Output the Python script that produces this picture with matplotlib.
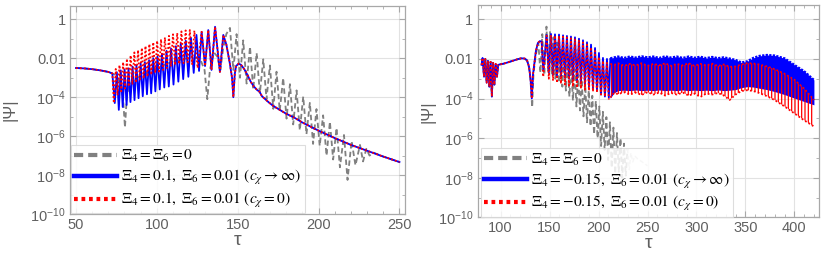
"""Two-panel |Psi|(tau) ringdown comparison, log scale."""
import numpy as np
import matplotlib
matplotlib.use("Agg")
import matplotlib.pyplot as plt
from matplotlib.lines import Line2D
from matplotlib.ticker import FixedLocator, NullFormatter

# all |Psi| values below are log10(|Psi|)

# ---------------- left panel ----------------
left_pre_t = [50, 55, 60, 65, 70, 72.5]
left_pre_lg = [-2.50, -2.52, -2.56, -2.62, -2.70, -2.78]

left_gray_t = [74, 77, 79, 80.3, 81.5, 83, 86, 90, 95, 100, 105, 110, 115, 120, 124, 127,
               129.5, 131.2, 132.8, 135.3, 137.3, 139.3, 141, 143, 145.2,
               147.3, 149.3, 151.4, 153.4, 155.5, 157.6, 159.6, 161.7, 163.7, 165.8,
               167.8, 169.9, 172.0, 174.0, 176.0, 178.1, 180.2, 182.3, 184.3, 186.4,
               188.4, 190.5, 192.5, 194.6, 196.6, 198.7, 200.7, 202.8, 204.9, 207.0,
               209.0, 211.1, 213.2, 215.7, 217.9, 220.4, 222.8, 225.6, 227.5, 229.5,
               231.5, 234, 240, 250]
left_gray_lg = [-2.85, -3.20, -3.90, -5.55, -3.90, -3.40, -3.10, -2.90, -2.70, -2.50, -2.32,
                -2.17, -2.06, -1.99, -1.98, -2.08,
                -2.60, -4.10, -2.60, -1.70, -1.90, -2.60, -1.50, -0.75, -0.44,
                -2.6, -0.76, -3.0, -1.08, -3.3, -1.41, -3.6, -1.73, -3.8, -2.05,
                -4.1, -2.37, -4.6, -2.69, -4.7, -3.01, -5.1, -3.33, -5.4, -3.65,
                -5.7, -3.97, -5.9, -4.29, -6.4, -4.61, -6.5, -4.93, -7.0, -5.26,
                -7.2, -5.58, -7.6, -5.94, -8.25, -6.25, -7.5, -6.45, -7.3, -6.65,
                -7.0, -6.85, -7.05, -7.33]

left_blue_t = [74.0, 75.3, 76.5, 77.7, 78.9, 80.1, 81.3, 82.5, 83.7, 85.0, 86.2, 87.4,
               88.7, 90.0, 91.3, 92.6, 93.9, 95.2, 96.5, 97.8, 99.1, 100.4, 101.8,
               103.2, 104.6, 106.0, 107.4, 108.8, 110.3, 111.8, 113.3, 114.8, 116.3,
               117.9, 119.5, 121.1, 122.8, 124.5, 126.1]
left_blue_lg = [-4.3, -2.72, -4.65, -2.62, -4.5, -2.58, -4.4, -2.52, -4.25, -2.43, -4.15,
                -2.36, -4.05, -2.28, -3.95, -2.20, -3.85, -2.10, -3.8, -2.00, -3.7, -1.90,
                -3.6, -1.78, -3.5, -1.62, -3.45, -1.50, -3.35, -1.38, -3.2, -1.25, -3.07,
                -1.10, -2.95, -0.95, -2.75, -0.80, -2.65]

left_red_t = [73.4, 74.6, 75.7, 76.9, 78.0, 79.2, 80.3, 81.5, 82.6, 83.8, 84.9, 86.1,
              87.2, 88.4, 89.5, 90.7, 91.8, 93.0, 94.2, 95.4, 96.6, 97.8, 99.0, 100.2,
              101.4, 102.6, 103.8, 105.0, 106.2, 107.5, 108.7, 110.0, 111.3, 112.6,
              113.9, 115.2, 116.5, 117.8, 119.1, 120.4, 121.8, 123.2, 125.2]
left_red_lg = [-4.3, -2.55, -3.9, -2.35, -3.7, -2.20, -3.55, -2.02, -3.45, -1.85, -3.35,
               -1.70, -3.25, -1.58, -3.15, -1.47, -3.05, -1.37, -2.95, -1.27, -2.85, -1.18,
               -2.75, -1.10, -2.68, -1.02, -2.6, -0.93, -2.5, -0.85, -2.42, -0.77, -2.35,
               -0.70, -2.3, -0.62, -2.25, -0.57, -2.2, -0.55, -2.3, -0.58, -2.5]

# blue and red coincide from the main peak on
left_tail_t = [127.7, 129.8, 131.8, 133.8, 136.0, 139.0, 141.1, 143, 145, 146.5, 147.3,
               148.2, 149, 150.5, 152, 154, 156, 158, 160, 162, 163.5, 165, 167, 169,
               172, 176, 180, 185, 190, 200, 210, 220, 230, 240, 250]
left_tail_lg = [-0.64, -2.4, -0.55, -2.6, -0.38, -2.7, -0.80, -1.3, -2.2, -3.0, -4.0,
                -2.8, -2.4, -2.28, -2.33, -2.55, -2.85, -3.2, -3.45, -3.63, -3.72, -3.95,
                -4.1, -4.25, -4.45, -4.65, -4.85, -5.05, -5.3, -5.72, -6.1, -6.45, -6.75,
                -7.05, -7.33]

# ---------------- right panel ----------------
right_pre_t = [80.5, 81.5, 83.0, 84.3, 85.7, 87.0, 88.4, 89.7, 91.0, 92.3, 93.6, 94.9,
               96.2, 97.5, 99, 103, 107, 112, 117, 121, 124.5, 127]
right_pre_lg = [-2.3, -1.95, -2.9, -2.0, -3.2, -2.1, -3.4, -2.15, -3.9, -2.2, -3.3, -2.25,
                -2.9, -2.3, -2.28, -2.24, -2.18, -2.10, -2.02, -1.97, -1.98, -2.08]

right_blue_t = [129, 130.5, 131.8, 133, 134.5, 136, 138, 140, 141.9, 143.5, 147.0, 149.2,
                151.4, 153.5, 155.5, 157.5, 159.6, 161.6, 163.7, 165.7, 167.7, 169.8,
                171.8, 173.8, 175.9, 178.0, 180.0, 182.0, 184.1, 186.1, 188.2, 190.2,
                192.3, 194.3, 196.4, 198.4, 200.4, 202.5, 204.5, 206.5, 208.6, 210.5, 212]
right_blue_lg = [-2.4, -3.0, -4.0, -2.8, -2.2, -1.6, -1.2, -1.1, -1.13, -2.6, -0.79, -2.7,
                 -0.74, -2.8, -0.76, -2.85, -0.77, -2.9, -0.81, -2.95, -0.84, -3.0,
                 -0.87, -3.05, -0.91, -3.1, -0.98, -3.2, -1.06, -3.3, -1.16, -3.4,
                 -1.28, -3.5, -1.45, -3.6, -1.70, -3.8, -1.95, -3.9, -2.0, -3.95, -2.0]

right_red_t = [129, 130.5, 131.8, 133, 134.5, 136, 138, 140, 141.9, 143.5, 147.0, 149.2,
               151.4, 153.5, 155.5, 157.5, 159.6, 161.6, 163.7, 165.7, 167.7, 169.8,
               171.8, 173.8, 175.9, 178.0, 180.0, 182.0, 184.1, 186.1, 188.2, 190.2,
               192.3, 194.3, 196.4, 198.4, 200.4, 202.5, 204.5, 206.5, 208.6, 210.5]
right_red_lg = [-2.4, -3.0, -4.0, -2.8, -2.2, -1.6, -1.2, -1.1, -1.15, -2.9, -0.83, -3.0,
                -0.80, -3.1, -0.82, -3.2, -0.84, -3.25, -0.88, -3.3, -0.92, -3.35,
                -0.96, -3.4, -1.01, -3.45, -1.08, -3.5, -1.17, -3.55, -1.28, -3.6,
                -1.42, -3.65, -1.60, -3.7, -1.90, -3.8, -2.10, -3.9, -2.2, -4.05]

# dense oscillation after tau ~ 212: upper / lower envelopes
band_t = [212, 216, 220, 226, 232, 238, 244, 250, 256, 262, 268, 274, 280, 286, 292,
          298, 304, 310, 316, 322, 328, 334, 340, 346, 352, 358, 364, 372, 380, 390,
          400, 410, 420]
blue_hi = [-1.97, -1.92, -1.88, -1.95, -1.88, -1.93, -1.87, -1.92, -1.88, -1.95, -1.87,
           -1.93, -1.88, -1.95, -1.88, -1.94, -1.89, -1.96, -1.90, -1.96, -1.92, -1.98,
           -2.05, -2.18, -2.12, -1.95, -1.85, -1.80, -1.83, -1.97, -2.30, -2.62, -3.06]
blue_lo = [-3.98, -3.70, -3.60, -3.58, -3.60, -3.57, -3.60, -3.58, -3.60, -3.57, -3.60,
           -3.58, -3.60, -3.57, -3.60, -3.58, -3.60, -3.58, -3.60, -3.57, -3.60, -3.58,
           -3.55, -3.45, -3.40, -3.42, -3.48, -3.55, -3.65, -3.80, -3.98, -4.15, -4.32]
red_hi = [-2.25, -2.30, -2.22, -2.35, -2.25, -2.33, -2.22, -2.35, -2.25, -2.32, -2.22,
          -2.35, -2.25, -2.33, -2.22, -2.35, -2.25, -2.33, -2.24, -2.36, -2.28, -2.40,
          -2.38, -2.28, -2.22, -2.23, -2.28, -2.38, -2.52, -2.75, -3.05, -3.50, -4.07]
red_lo = [-3.95, -3.72, -3.78, -3.68, -3.80, -3.70, -3.82, -3.68, -3.80, -3.70, -3.85,
          -3.72, -3.80, -3.70, -3.85, -3.75, -3.92, -3.75, -3.80, -3.72, -3.85, -4.07,
          -3.80, -3.62, -3.58, -3.62, -3.72, -3.88, -4.08, -4.40, -4.75, -5.10, -5.41]

right_gray_t = [129, 130.5, 132.2, 133.5, 135, 137, 138.5, 140.6, 142.5, 144.6, 146.8,
                148.6, 150.4, 152.2, 154.0, 155.8, 157.6, 159.4, 161.2, 163.0, 164.8,
                166.6, 168.4, 170.2, 172.0, 173.8, 175.6, 177.4, 179.2, 181.0, 182.8,
                184.6, 186.4, 188.2, 190.0, 191.8, 193.6, 195.4, 197.2, 199.0, 200.8,
                202.6, 204.4, 206.2, 208.0, 209.8, 211.6, 213.4, 215.2, 217.0, 218.8,
                220.6, 222.4, 224.2, 226.0, 227.8, 229.6]
right_gray_lg = [-2.45, -3.1, -4.45, -2.8, -2.1, -1.5, -1.2, -2.7, -0.75, -2.8, -0.37,
                 -2.6, -0.64, -2.8, -0.91, -3.0, -1.18, -3.2, -1.44, -3.4, -1.71,
                 -3.6, -1.98, -3.9, -2.25, -4.1, -2.52, -4.4, -2.79, -4.6, -3.06,
                 -4.9, -3.32, -5.2, -3.59, -5.4, -3.86, -5.8, -4.13, -6.0, -4.40,
                 -6.4, -4.67, -6.6, -4.94, -7.1, -5.20, -7.5, -5.47, -7.8, -5.74,
                 -7.7, -6.01, -8.0, -6.28, -7.9, -6.55]
right_gray_fade_t = [229.6, 231.4, 233, 235, 237, 240, 243, 246, 250]
right_gray_fade_lg = [-6.55, -7.6, -6.75, -7.2, -6.9, -7.05, -7.15, -7.25, -7.4]

left_labels = [r"$\Xi_4 = \Xi_6 = 0$",
               r"$\Xi_4 = 0.1,\ \Xi_6 = 0.01\ (c_\chi \to \infty)$",
               r"$\Xi_4 = 0.1,\ \Xi_6 = 0.01\ (c_\chi = 0)$"]
right_labels = [r"$\Xi_4 = \Xi_6 = 0$",
                r"$\Xi_4 = -0.15,\ \Xi_6 = 0.01\ (c_\chi \to \infty)$",
                r"$\Xi_4 = -0.15,\ \Xi_6 = 0.01\ (c_\chi = 0)$"]

GRAY = "#808080"
BLUE = "#0000ff"
RED = "#ff0000"
TXT = "#606060"
FRAME = "#a8a8a8"

plt.rcParams["font.family"] = ["Liberation Sans", "DejaVu Sans"]
plt.rcParams["mathtext.fontset"] = "stix"
plt.rcParams["hatch.linewidth"] = 0.9


def p(lg):
    return 10.0 ** np.asarray(lg, dtype=float)


def style_axes(ax, xlim, xmajor, xminor, ylim_top, ypad):
    ax.set_yscale("log")
    ax.set_xlim(*xlim)
    ax.set_ylim(1e-10, ylim_top)
    ax.xaxis.set_major_locator(FixedLocator(xmajor))
    ax.xaxis.set_minor_locator(FixedLocator(xminor))
    ymaj = [1e-10, 1e-8, 1e-6, 1e-4, 1e-2, 1]
    ax.yaxis.set_major_locator(FixedLocator(ymaj))
    ax.yaxis.set_minor_locator(FixedLocator([1e-9, 1e-7, 1e-5, 1e-3, 1e-1]))
    ax.yaxis.set_minor_formatter(NullFormatter())
    ax.set_yticklabels([r"$\mathregular{10^{-10}}$", r"$\mathregular{10^{-8}}$",
                        r"$\mathregular{10^{-6}}$", r"$\mathregular{10^{-4}}$",
                        "0.01", "1"])
    ax.tick_params(which="both", direction="in", top=True, right=True,
                   color=FRAME, labelcolor=TXT, labelsize=10.5, pad=3)
    ax.tick_params(which="major", length=4, width=0.8)
    ax.tick_params(which="minor", length=2, width=0.6)
    for s in ax.spines.values():
        s.set_color(FRAME)
        s.set_linewidth(0.9)
    ax.grid(True, which="major", color="#e2e2e2", linewidth=0.8)
    ax.set_axisbelow(True)
    ax.set_xlabel("τ", fontsize=14, color=TXT, labelpad=0)
    ax.set_ylabel("|Ψ|", fontsize=12, color=TXT, labelpad=ypad)


def add_legend(ax, labels, xoff):
    handles = [Line2D([], [], color=GRAY, lw=3, ls=(0, (2.2, 1.2))),
               Line2D([], [], color=BLUE, lw=3.2),
               Line2D([], [], color=RED, lw=3, ls=(0, (0.9, 0.9)))]
    leg = ax.legend(handles, labels, loc="lower left", bbox_to_anchor=(xoff, 0.0),
                    borderaxespad=0.05, fontsize=11.2, handlelength=2.75,
                    handletextpad=0.3, labelspacing=0.25, borderpad=0.2,
                    frameon=True, fancybox=False, framealpha=0.85)
    leg.get_frame().set_edgecolor("#d8d8d8")
    leg.get_frame().set_linewidth(0.8)


fig = plt.figure(figsize=(8.3, 2.66), dpi=100)
ax1 = fig.add_axes([0.0843, 0.1955, 0.4036, 0.783])
ax2 = fig.add_axes([0.5755, 0.183, 0.4116, 0.798])

dash = (0, (3.0, 1.8))
dot = (0, (1.0, 1.2))

# left
ax1.plot(left_pre_t + left_gray_t, p(left_pre_lg + left_gray_lg), color=GRAY, lw=1.3,
         ls=dash, zorder=2)
ax1.plot(left_pre_t + left_blue_t + left_tail_t, p(left_pre_lg + left_blue_lg + left_tail_lg),
         color=BLUE, lw=1.3, zorder=3)
ax1.plot(left_pre_t + left_red_t + left_tail_t, p(left_pre_lg + left_red_lg + left_tail_lg),
         color=RED, lw=1.3, ls=dot, zorder=4)
style_axes(ax1, (46.3, 253.4), [50, 100, 150, 200, 250], list(range(50, 251, 10)),
           10 ** 0.7, 9)
add_legend(ax1, left_labels, 0.0)

# right
ax2.plot(right_pre_t + right_gray_t, p(right_pre_lg + right_gray_lg), color=GRAY, lw=1.3,
         ls=dash, zorder=2)
ax2.plot(right_gray_fade_t, p(right_gray_fade_lg), color="#c8c8c8", lw=1.0, ls=dash, zorder=2)
ax2.plot(right_pre_t + right_blue_t, p(right_pre_lg + right_blue_lg), color=BLUE, lw=1.3,
         zorder=3)
ax2.fill_between(band_t, p(blue_lo), p(blue_hi), color=BLUE, lw=0, zorder=3)
ax2.plot(band_t, p(blue_hi), color=BLUE, lw=1.6, ls=(0, (1.0, 0.6)), zorder=3)
ax2.plot(right_pre_t + right_red_t, p(right_pre_lg + right_red_lg), color=RED, lw=1.3,
         ls=dot, zorder=4)
ax2.fill_between(band_t, p(red_lo), p(red_hi), facecolor="none", edgecolor=RED,
                 hatch="|||||", lw=0, zorder=4)
ax2.plot(band_t, p(red_hi), color=RED, lw=1.3, ls=dot, zorder=4)
ax2.plot(band_t, p(red_lo), color=RED, lw=1.3, ls=dot, zorder=4)
style_axes(ax2, (76.5, 425.5), [100, 150, 200, 250, 300, 350, 400],
           list(range(80, 421, 10)), 10 ** 0.72, 2)
add_legend(ax2, right_labels, 0.007)

fig.savefig("out.png", dpi=100)
